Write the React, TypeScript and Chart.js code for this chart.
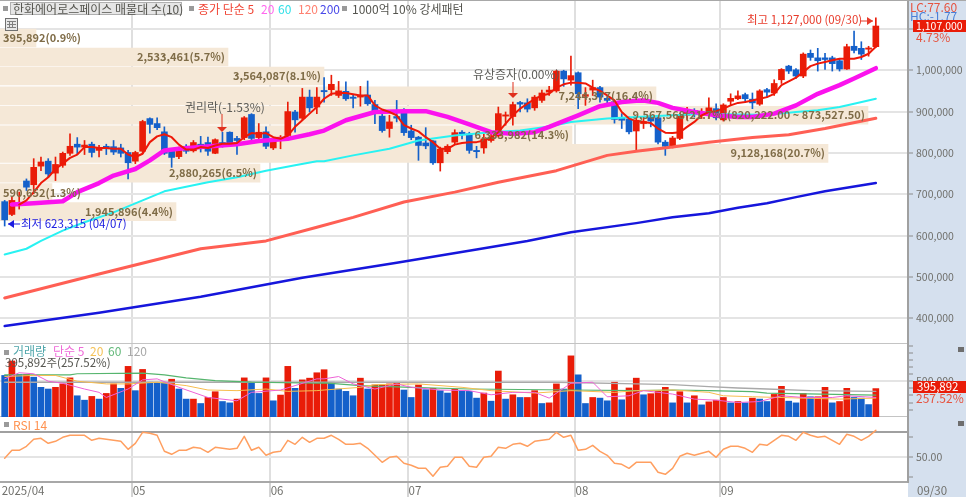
import React, { useEffect, useRef } from "react";
import { Chart, registerables } from "chart.js";

Chart.register(...registerables);

// ---------- data (prices in thousand won, volume in thousand shares) ----------
const opens = [682,651,677,732,723,768,780,751,770,799,821,814,821,806,816,815,812,801,780,804,883,871,851,806,791,816,805,821,825,799,825,850,835,837,893,837,851,812,832,842,899,884,935,911,951,953,939,949,935,935,940,917,889,859,888,903,853,838,824,829,776,803,826,850,846,806,812,830,841,889,888,922,921,909,927,947,950,998,976,994,937,952,958,932,924,885,882,853,871,887,885,826,816,835,891,903,891,891,907,880,925,931,941,930,918,953,945,977,1010,1001,986,1041,1030,1030,1030,1023,1003,1058,1053,1051,1057];
const closes = [638,685,680,717,765,778,749,772,799,816,814,819,801,812,810,802,799,776,801,876,869,861,799,789,806,804,825,816,804,832,820,822,830,885,835,850,816,830,838,900,880,935,909,935,948,966,950,931,932,938,919,895,854,875,884,849,837,818,817,776,809,816,849,846,806,803,834,838,895,892,917,918,906,935,945,952,998,979,987,943,941,958,935,927,881,879,851,879,876,877,826,816,836,891,903,893,899,909,885,916,932,938,931,921,950,947,968,1002,998,986,1039,1031,1023,1026,1016,1003,1057,1048,1039,1054,1107];
const highs = [685,693,705,737,786,790,786,790,802,846,837,830,826,818,821,830,821,806,804,879,885,885,863,810,814,820,830,840,838,834,850,851,840,888,895,871,863,834,842,923,903,956,952,958,982,988,973,972,939,961,974,927,895,891,927,907,867,840,861,830,814,820,856,854,850,816,846,846,911,899,923,925,931,939,952,961,1000,1000,1034,996,958,976,961,939,927,895,887,887,887,891,891,830,840,895,910,907,907,933,919,919,943,950,945,945,953,956,977,1004,1012,1004,1042,1049,1053,1041,1034,1028,1063,1095,1069,1058,1127];
const lows = [623,648,664,709,701,757,741,733,765,794,798,796,790,790,796,796,790,737,774,798,848,856,796,765,786,799,802,802,794,798,814,818,796,832,830,832,810,808,810,838,850,880,899,895,923,939,934,927,909,913,915,871,850,838,875,842,832,782,810,772,756,798,822,834,799,788,799,826,838,867,867,899,899,903,922,939,947,961,964,907,915,939,923,919,872,859,846,806,859,863,822,794,812,832,879,887,883,883,880,877,915,929,923,907,915,935,939,968,992,980,982,1024,998,1002,998,998,1002,1042,1026,1034,1055];

const ma5Start = 2;
const ma5 = [675,685,705,727,741,761,774,788,796,814,814,812,812,810,810,796,790,798,826,840,845,838,820,808,808,814,812,818,822,822,824,838,848,846,848,838,834,842,863,879,895,911,931,943,945,945,942,939,939,915,905,899,891,867,859,852,838,826,810,810,820,824,826,826,830,837,850,871,891,907,919,930,939,943,958,966,970,970,968,958,950,939,927,899,883,877,875,872,859,849,848,850,863,875,891,899,901,907,915,921,923,927,931,935,943,964,973,982,996,1010,1016,1020,1024,1028,1028,1028,1032,1040,1057];
const ma20Days = [1,4,8,10,13,15,18,20,22,24,27,32,35,39,42,44,47,51,55,58,61,64,67,70,73,75,79,82,85,87,88,90,92,95,98,101,103,106,109,112,115,117,120];
const ma20 = [675,678,683,705,727,745,761,782,806,810,814,821,829,834,845,854,879,899,901,901,887,869,850,846,850,863,891,913,923,926,927,921,909,899,891,887,887,895,915,943,964,980,1005];
const ma60Days = [0,3,5,8,11,15,19,22,28,32,36,40,43,44,48,53,57,62,67,71,75,78,83,87,92,97,101,105,109,112,115,117,120];
const ma60 = [554,568,587,612,632,656,685,707,729,741,757,770,780,780,794,810,830,842,850,854,864,875,883,887,891,895,893,892,899,903,911,919,931];
const ma120Days = [0,13,27,36,43,48,55,62,68,76,83,87,92,97,103,108,113,120];
const ma120 = [449,507,568,587,620,644,681,705,729,757,794,804,814,826,837,844,859,884];
const ma200Days = [0,13,27,41,54,65,72,78,87,92,97,101,105,109,113,120];
const ma200 = [381,413,452,498,534,566,587,608,630,644,654,667,678,693,707,727];

const profilePercents = [0.9,5.7,8.1,16.4,21.7,14.3,20.7,6.5,1.3,4.4];
const profilePrices = [1078,1032,986,938,891,844,799,751,704,658];
const profileTexts = ["395,892(0.9%)","2,533,461(5.7%)","3,564,087(8.1%)","7,244,377(16.4%)","9,567,568(21.7%)(820,222.00 ~ 873,527.50)","6,333,982(14.3%)","9,128,168(20.7%)","2,880,265(6.5%)","590,652(1.3%)","1,945,896(4.4%)"];

const volumes = [581,785,595,595,557,414,390,414,462,547,295,233,286,248,328,462,400,709,367,666,486,471,471,528,390,248,248,186,271,352,214,195,248,547,486,328,547,224,305,709,400,519,543,619,662,486,390,357,295,543,390,447,447,462,481,376,271,447,381,400,367,333,386,367,357,262,333,219,643,248,309,271,271,367,186,195,462,390,857,590,186,271,262,224,486,238,405,543,309,324,357,414,195,352,195,295,167,209,233,271,195,214,195,262,248,214,314,428,219,195,328,281,281,414,195,214,400,271,262,171,396];
const volumeKeys = "brbrbbbrrr"+"bbrbrrbrbr"+"bbbrbbrbrr"+"bbrrbbrbrr"+"brrrrbbbbr"+"brrrrbbrbr"+"bbrbbbrbrb"+"rbrrbrrbrb"+"brbbrbrrbr"+"rrbrbrbrrr"+"brbrbbrrbb"+"rbrrbrrbbbr";

const volMa5Days = [0,2,4,6,8,11,13,14,17,19,21,24,28,32,34,38,40,43,44,46,48,51,54,56,60,64,67,70,73,75,78,81,83,86,88,92,95,98,101,104,107,110,114,116,120];
const volMa5 = [533,619,605,500,471,390,343,271,390,519,533,414,271,224,343,376,438,533,533,566,462,390,462,414,376,367,309,343,343,262,471,486,281,295,367,319,248,233,200,214,295,271,271,295,271];
const volMa20Days = [0,4,7,10,14,17,21,25,28,32,36,39,43,44,49,51,57,63,67,73,78,84,87,92,97,99,103,115,120];
const volMa20 = [566,581,581,500,462,462,486,438,376,367,390,357,367,376,414,452,462,414,367,333,367,343,367,376,343,295,281,248,262];
const volMa60Days = [0,9,10,19,22,25,29,34,43,44,49,56,64,78,87,92,97,103,105,120];
const volMa60 = [590,590,605,614,590,547,509,486,471,476,438,414,390,376,367,376,367,352,333,305];
const volMa120Days = [0,43,44,76,87,92,97,101,105,111,120];
const volMa120 = [486,486,486,486,462,452,424,405,390,367,357];

const rsi = [49,57,57,61,68,69,64,66,70,72,72,72,67,69,68,67,66,58,64,75,74,72,56,53,57,57,60,59,55,60,59,58,59,71,57,60,52,55,56,67,63,70,65,69,69,72,68,63,63,64,59,52,45,50,51,44,42,39,39,31,40,41,50,50,41,40,50,51,60,59,63,64,61,66,67,68,75,70,72,57,58,62,56,52,44,43,39,45,45,45,35,33,39,51,54,52,54,56,50,58,61,61,59,55,63,62,67,72,71,67,75,72,70,71,67,63,73,71,67,71,77];

const priceTicks = [400,500,600,700,800,900,1000,1100];
const volumeTicks = [100,200,300,400,500,600,700,800,900,1000];
const rsiTicks = [30,50,70,75];
const monthTicks = [-0.55,17.5,36.5,55.5,78.5,98.5];
const monthLabels = ["2025/04","05","06","07","08","09"];

// ---------- style ----------
const FONT = '"Noto Sans CJK KR", "Noto Sans", sans-serif';
const RED = "#e91c08";
const BLUE = "#1460ca";
const GRID = "#e4e4e4";
const STRIP = "#d5e0ee";
const AXIS_TEXT = "#70706c";
const X_MIN = -0.643;
const X_MAX = 124.43;

const zip = (xs: number[], ys: number[]) => xs.map((x, i) => ({ x, y: ys[i] }));
const lineSet = (data: any[], color: string, width: number, order: number) => ({
  type: "line" as const, data, borderColor: color, borderWidth: width, pointRadius: 0, tension: 0, order,
  xAxisID: "x", yAxisID: "y", borderJoinStyle: "round" as const, borderCapStyle: "round" as const,
});

function text(ctx: CanvasRenderingContext2D, s: string, x: number, y: number, color: string, size = 11, align: CanvasTextAlign = "left", weight = "normal") {
  ctx.font = `${weight} ${size}px ${FONT}`;
  ctx.textAlign = align;
  ctx.textBaseline = "middle";
  ctx.fillStyle = color;
  ctx.fillText(s, x, y);
}
function square(ctx: CanvasRenderingContext2D, x: number, y: number, size = 5) {
  ctx.fillStyle = "#9a9a9a";
  ctx.fillRect(x, y, size, size);
}
function downArrow(ctx: CanvasRenderingContext2D, x: number, top: number, bottom: number) {
  ctx.fillStyle = "#e0301e";
  ctx.fillRect(x - 0.5, top, 1, bottom - top - 4);
  ctx.beginPath();
  ctx.moveTo(x - 5, bottom - 5);
  ctx.lineTo(x + 5, bottom - 5);
  ctx.lineTo(x, bottom);
  ctx.closePath();
  ctx.fill();
}
function sideArrow(ctx: CanvasRenderingContext2D, x0: number, x1: number, y: number, color: string) {
  const dir = x1 > x0 ? 1 : -1;
  ctx.fillStyle = color;
  ctx.fillRect(Math.min(x0, x1), y - 0.5, Math.abs(x1 - x0), 1);
  ctx.beginPath();
  ctx.moveTo(x1, y);
  ctx.lineTo(x1 - dir * 6, y - 4);
  ctx.lineTo(x1 - dir * 6, y + 4);
  ctx.closePath();
  ctx.fill();
}
const noPad = (s: any) => { s.paddingTop = 0; s.paddingBottom = 0; s.paddingLeft = 0; s.paddingRight = 0; };

function xAxis(extra: any = {}) {
  return {
    type: "linear" as const, min: X_MIN, max: X_MAX, offset: false,
    afterBuildTicks: (s: any) => { s.ticks = monthTicks.map((value) => ({ value })); },
    afterFit: (s: any) => { s.height = 0; noPad(s); },
    ticks: { display: false, autoSkip: false },
    grid: { offset: false, color: (c: any) => (c.tick && c.tick.value < 0 ? "transparent" : "#dfdfdf"), lineWidth: 2, drawTicks: false },
    border: { display: true, color: "#c4c4c4", width: 2 },
    ...extra,
  };
}
function yAxis(values: number[], min: number, max: number, callback: (v: number) => string, gridColor: (v: number) => string, tickColor: (v: number) => string = () => "#8a8a8a") {
  return {
    type: "linear" as const, position: "right" as const, min, max, offset: false,
    afterBuildTicks: (s: any) => { s.ticks = values.map((value) => ({ value })); },
    afterFit: (s: any) => { s.width = 58; noPad(s); },
    ticks: { autoSkip: false, padding: 3, color: AXIS_TEXT, font: { family: FONT, size: 10.5 }, callback: (v: any) => callback(Number(v)), crossAlign: "near" as const },
    grid: { offset: false, color: (c: any) => gridColor(c.tick ? c.tick.value : 0), tickColor: (c: any) => tickColor(c.tick ? c.tick.value : 0), tickLength: 5, lineWidth: 2, tickWidth: 1 },
    border: { display: true, color: "#a0a0a0", width: 2 },
  };
}
const base = {
  responsive: false, animation: false as const, devicePixelRatio: 1,
  layout: { padding: 0 },
  plugins: { legend: { display: false }, tooltip: { enabled: false } },
};
const stripBg = {
  id: "stripBg",
  beforeDraw(chart: any) {
    const c = chart.ctx;
    c.save();
    c.fillStyle = STRIP;
    c.fillRect(chart.chartArea.right, 0, chart.width - chart.chartArea.right, chart.height);
    c.restore();
  },
};

const priceOverlay = {
  id: "priceOverlay",
  afterDatasetsDraw(chart: any) {
    const c = chart.ctx as CanvasRenderingContext2D;
    const { y: yS, xPct } = chart.scales;
    c.save();
    // price profile captions
    const brown = "#7f6c47";
    profileTexts.forEach((s, i) => {
      const yp = yS.getPixelForValue(profilePrices[i]);
      c.font = `bold 11px ${FONT}`;
      const w = c.measureText(s).width;
      const end = xPct.getPixelForValue(profilePercents[i]) - 3;
      if (end - w < 3) text(c, s, 3, yp, brown, 11, "left", "bold");
      else text(c, s, end, yp, brown, 11, "right", "bold");
    });
    // event notes
    text(c, "권리락(-1.53%)", 185, 107, "#5c5c58", 12);
    downArrow(c, 222, 114, 132);
    text(c, "유상증자(0.00%)", 473, 74, "#5c5c58", 12);
    downArrow(c, 513, 82, 98);
    sideArrow(c, 20, 8, 224, "#1a1ae0");
    text(c, "최저 623,315 (04/07)", 21, 224, "#1a1ae0", 11.5);
    text(c, "최고 1,127,000 (09/30)", 747, 20, "#e83a2a", 11.5);
    sideArrow(c, 860, 873, 21, "#e83a2a");
    // top legend
    c.fillStyle = "#a8a8a8"; c.fillRect(0, 0, chart.width, 1);
    square(c, 3, 6);
    c.fillStyle = "#e6e6e6"; c.fillRect(10, 2, 172, 13);
    c.strokeStyle = "#b0b0b0"; c.lineWidth = 1; c.strokeRect(10.5, 2.5, 171, 12);
    text(c, "한화에어로스페이스 매물대 수(10)", 13, 9, "#55554f", 12);
    square(c, 189, 6);
    text(c, "종가 단순 5", 198, 9, "#f04434", 12);
    text(c, "20", 261, 9, "#ff66ee", 12);
    text(c, "60", 278, 9, "#30e0e8", 12);
    text(c, "120", 298, 9, "#ff8070", 12);
    text(c, "200", 320, 9, "#4848e8", 12);
    square(c, 342, 6);
    text(c, "1000억 10% 강세패턴", 352, 9, "#55554f", 12);
    // small table icon
    c.fillStyle = "#e8e8e8"; c.fillRect(5, 18, 13, 13);
    c.strokeStyle = "#707070"; c.strokeRect(5.5, 18.5, 12, 12);
    c.fillStyle = "#808080";
    c.fillRect(7, 21, 9, 1); c.fillRect(7, 24, 9, 1); c.fillRect(7, 27, 9, 1);
    c.fillRect(9, 21, 1, 7); c.fillRect(12, 21, 1, 7);
    // right strip labels
    text(c, "LC:77.60", 910, 7, "#e6533f", 12);
    text(c, "HC:-1.77", 910, 16, "#4a80d8", 12);
    c.fillStyle = RED; c.fillRect(913, 20, 53, 12);
    text(c, "1,107,000", 916, 26, "#ffffff", 10.5);
    text(c, "4.73%", 916, 37, "#e6533f", 12);
    c.restore();
  },
};
const volumeOverlay = {
  id: "volumeOverlay",
  afterDatasetsDraw(chart: any) {
    const c = chart.ctx as CanvasRenderingContext2D;
    c.save();
    square(c, 4, 6);
    text(c, "거래량", 13, 7, "#4ea5aa", 12);
    text(c, "단순 5", 53, 7, "#ef6ad8", 12);
    text(c, "20", 90, 7, "#f5c35a", 12);
    text(c, "60", 108, 7, "#63b97a", 12);
    text(c, "120", 127, 7, "#a8a8a8", 12);
    text(c, "395,892주(257.52%)", 5, 19, "#55554f", 11.5);
    c.fillStyle = "#6e6e6e"; c.fillRect(958, 3, 6, 5);
    c.fillStyle = RED; c.fillRect(913, 37, 53, 12);
    text(c, "395,892", 917, 43, "#ffffff", 11.5);
    text(c, "257.52%", 916, 54, "#e6533f", 12);
    c.restore();
  },
};
const rsiOverlay = {
  id: "rsiOverlay",
  afterDatasetsDraw(chart: any) {
    const c = chart.ctx as CanvasRenderingContext2D;
    c.save();
    square(c, 4, 5);
    text(c, "RSI 14", 13, 8, "#ff9250", 12);
    c.fillStyle = "#6e6e6e"; c.fillRect(958, 4, 6, 5);
    text(c, "09/30", 917, 74, AXIS_TEXT, 11.5);
    c.restore();
  },
};

export default function App() {
  const priceRef = useRef<HTMLCanvasElement>(null);
  const volumeRef = useRef<HTMLCanvasElement>(null);
  const rsiRef = useRef<HTMLCanvasElement>(null);

  useEffect(() => {
    const days = closes.map((_, i) => i);
    const candleColor = days.map((i) => (closes[i] >= opens[i] ? RED : BLUE));

    const price = new Chart(priceRef.current!, {
      type: "bar",
      data: {
        datasets: [
          lineSet(zip(ma5.map((_, i) => i + ma5Start), ma5), "#ee1808", 2, 1),
          lineSet(zip(ma20Days, ma20), "#fb12ee", 4.5, 2),
          lineSet(zip(ma60Days, ma60), "#28f2f2", 2, 3),
          lineSet(zip(ma120Days, ma120), "#ff5f54", 3, 4),
          lineSet(zip(ma200Days, ma200), "#1616dc", 2.5, 5),
          { type: "bar", data: days.map((i) => ({ x: i, y: [Math.min(opens[i], closes[i]), Math.max(opens[i], closes[i])] })), backgroundColor: candleColor, barThickness: 6, grouped: false, order: 10, xAxisID: "x", yAxisID: "y" },
          { type: "bar", data: days.map((i) => ({ x: i, y: [lows[i], highs[i]] })), backgroundColor: candleColor, barThickness: 1, grouped: false, order: 11, xAxisID: "x", yAxisID: "y" },
          { type: "bar", indexAxis: "y", data: profilePercents.map((p, i) => ({ x: p, y: profilePrices[i] })), backgroundColor: "#f5e8d7", barThickness: 18, grouped: false, order: 20, xAxisID: "xPct", yAxisID: "y" },
        ] as any,
      },
      options: {
        ...base,
        scales: {
          x: xAxis(),
          xPct: { type: "linear", axis: "x", min: 0, max: 22.7, display: false, offset: false },
          y: yAxis(priceTicks, 337.5, 1170, (v) => (v === 1100 ? "" : (v * 1000).toLocaleString("en-US")), () => GRID),
        },
      } as any,
      plugins: [stripBg, priceOverlay],
    });

    const volumeColors = days.map((i) => (volumeKeys[i] === "r" ? RED : BLUE));
    const volume = new Chart(volumeRef.current!, {
      type: "bar",
      data: {
        datasets: [
          lineSet(zip(volMa5Days, volMa5), "#ee62d6", 1, 1),
          lineSet(zip(volMa20Days, volMa20), "#f7bd4e", 1, 2),
          lineSet(zip(volMa60Days, volMa60), "#56b56e", 1.2, 3),
          lineSet(zip(volMa120Days, volMa120), "#a9a9a9", 1.4, 4),
          { type: "bar", data: days.map((i) => ({ x: i, y: volumes[i] })), backgroundColor: volumeColors, barThickness: 6, grouped: false, order: 10, xAxisID: "x", yAxisID: "y" },
        ] as any,
      },
      options: {
        ...base,
        scales: {
          x: xAxis(),
          y: yAxis(volumeTicks, -4, 1024, (v) => (v === 500 ? "500,000" : ""), (v) => (v === 500 ? GRID : "transparent")),
        },
      } as any,
      plugins: [stripBg, volumeOverlay],
    });

    const rsiChart = new Chart(rsiRef.current!, {
      type: "line",
      data: { datasets: [lineSet(zip(days, rsi), "#ff9f60", 1.5, 1)] as any },
      options: {
        ...base,
        scales: {
          x: xAxis({
            afterFit: (s: any) => { s.height = 15; noPad(s); },
            ticks: { display: true, autoSkip: false, maxRotation: 0, align: "start", padding: -13, labelOffset: 1, color: AXIS_TEXT, font: { family: FONT, size: 11.5 }, callback: (v: any) => monthLabels[monthTicks.indexOf(Number(v))] ?? "" },
            grid: { color: (c: any) => (c.tick && c.tick.value < 0 ? "transparent" : "#dfdfdf"), tickColor: (c: any) => (c.tick && c.tick.value < 0 ? "transparent" : "#a8a8a8"), lineWidth: 2, tickLength: 15, tickWidth: 1, drawTicks: true },
            border: { display: true, color: "#a8a8a8", width: 2 },
          }),
          y: yAxis(rsiTicks, 25.3, 90.3, (v) => (v === 50 ? "50.00" : ""), (v) => (v === 75 ? "#a0a0a0" : v === 50 ? GRID : "transparent"), (v) => (v === 75 ? "transparent" : "#8a8a8a")),
        },
      } as any,
      plugins: [stripBg, rsiOverlay],
    });

    return () => {
      price.destroy();
      volume.destroy();
      rsiChart.destroy();
    };
  }, []);

  const box = (top: number, height: number): React.CSSProperties => ({ position: "absolute", left: 0, top, width: 966, height, display: "block" });
  return (
    <div style={{ position: "fixed", left: 0, top: 0, width: 966, height: 497, background: "#ffffff", overflow: "hidden" }}>
      <canvas ref={priceRef} width={966} height={344} style={box(0, 344)} />
      <canvas ref={volumeRef} width={966} height={73} style={box(344, 73)} />
      <canvas ref={rsiRef} width={966} height={80} style={box(417, 80)} />
    </div>
  );
}
